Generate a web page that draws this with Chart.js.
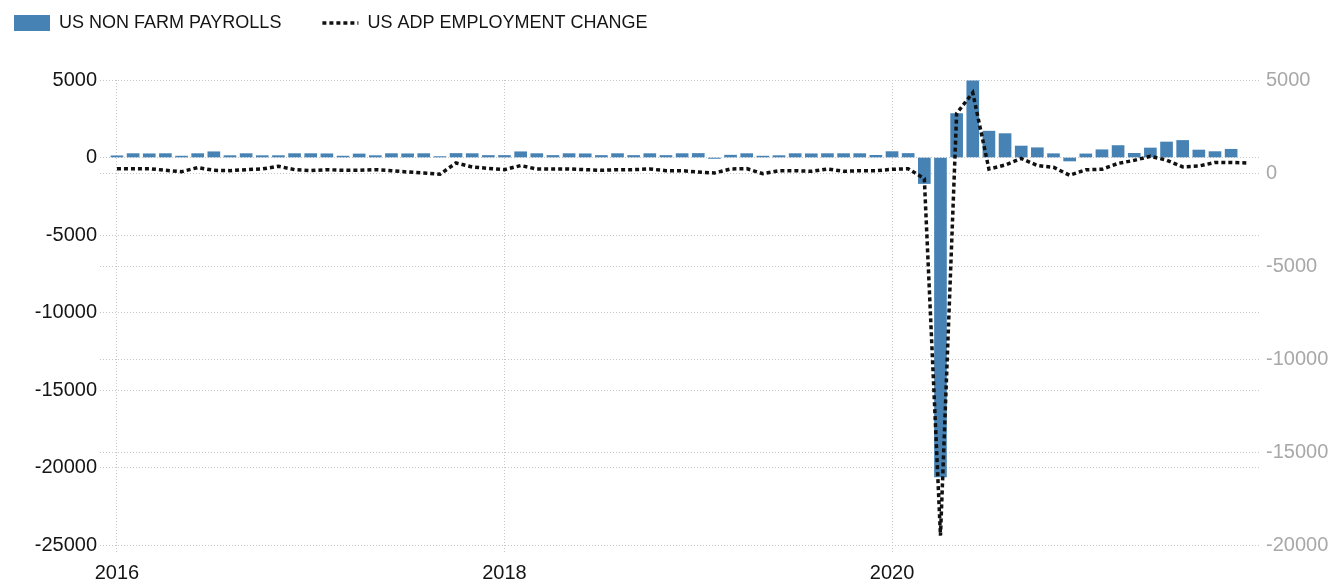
<!DOCTYPE html>
<html>
<head>
<meta charset="utf-8">
<title>US Non Farm Payrolls vs ADP Employment Change</title>
<script src="https://cdn.jsdelivr.net/npm/chart.js@4.4.0/dist/chart.umd.min.js"></script>
<style>
  html, body { margin: 0; padding: 0; background: #fff; }
  #wrap { width: 1341px; height: 587px; }
</style>
</head>
<body>
<div id="wrap"><canvas id="chart"></canvas></div>
<script>
// monthly data, thousands of jobs
const yearTicks = [2016, 2018, 2020];

// NFP: Jan 2016 - Oct 2021
const nfp = [
  110, 250, 240, 250, 90, 250, 370, 120, 250, 120, 120, 250,
  250, 240, 90, 230, 120, 250, 240, 250, 60, 260, 250, 130,
  130, 370, 250, 130, 250, 240, 130, 250, 130, 250, 130, 250,
  260, -60, 150, 250, 90, 120, 250, 240, 250, 250, 250, 140,
  380, 260, -1680, -20600, 2833, 4940, 1700, 1540, 740, 630, 245, -225,
  233, 500, 770, 269, 614, 1000, 1100, 483, 379, 531
];

// ADP: Jan 2016 - Nov 2021
const adp = [
  235, 235, 235, 145, 72, 290, 145, 126, 180, 217, 361, 180,
  126, 180, 145, 145, 180, 126, 54, 0, -70, 540, 325, 250,
  180, 400, 217, 217, 217, 180, 145, 180, 180, 217, 126, 126,
  54, 0, 217, 235, -36, 126, 126, 90, 217, 90, 126, 126,
  200, 230, -302, -19500, 3200, 4314, 212, 428, 780, 404, 307, -123,
  174, 200, 517, 680, 900, 692, 330, 374, 568, 571, 534
];

const months = [];
for (let y = 2016; y <= 2021; y++) {
  for (let m = 1; m <= 12; m++) months.push(y + '-' + String(m).padStart(2, '0'));
}

Chart.defaults.font.family = "'Liberation Sans', Arial, sans-serif";

const legendPlace = {
  id: 'legendPlace',
  beforeInit(chart) {
    const fit = chart.legend.fit;
    chart.legend.fit = function () {
      fit.call(this);
      this.height = 80;
    };
  },
  afterLayout(chart) {
    const pad = chart.options.plugins.legend.labels.padding;
    chart.legend.left = 14 - pad;
    chart.legend.top = 23 - pad - 9;
  }
};

const gridColor = '#c6c6c6';
const textColor = '#151515';

new Chart(document.getElementById('chart'), {
  data: {
    datasets: [
      {
        type: 'bar',
        label: 'US NON FARM PAYROLLS',
        data: nfp.map((v, i) => ({ x: i, y: v })),
        backgroundColor: '#4682b4',
        barThickness: 12,
        yAxisID: 'y',
        order: 1
      },
      {
        type: 'line',
        label: 'US ADP EMPLOYMENT CHANGE',
        data: adp.map((v, i) => ({ x: i, y: v })),
        borderColor: '#111',
        borderWidth: 3.5,
        borderDash: [4, 3],
        pointRadius: 0,
        tension: 0,
        fill: false,
        yAxisID: 'y1',
        order: 0
      }
    ]
  },
  options: {
    responsive: true,
    maintainAspectRatio: false,
    animation: false,
    layout: { padding: 0 },
    plugins: {
      tooltip: { enabled: false },
      legend: {
        position: 'top',
        align: 'start',
        labels: {
          padding: 41,
          usePointStyle: true,
          pointStyleWidth: 36,
          boxHeight: 16,
          color: textColor,
          font: { size: 18 },
          sort: (a, b) => a.datasetIndex - b.datasetIndex,
          generateLabels(chart) {
            const items = Chart.defaults.plugins.legend.labels.generateLabels(chart);
            items.forEach(it => {
              const ds = chart.data.datasets[it.datasetIndex];
              if (ds.type === 'line') {
                it.pointStyle = 'line';
                it.lineWidth = ds.borderWidth;
                it.lineDash = ds.borderDash;
                it.strokeStyle = ds.borderColor;
              } else {
                it.pointStyle = 'rect';
                it.lineWidth = 0;
                it.fillStyle = ds.backgroundColor;
              }
            });
            return items;
          }
        }
      }
    },
    scales: {
      x: {
        type: 'linear',
        offset: false,
        min: -1.05,
        max: 70.85,
        afterBuildTicks(scale) {
          scale.ticks = yearTicks.map(y => ({ value: months.indexOf(y + '-01') }));
        },
        afterFit(scale) { scale.height = 42; },
        ticks: {
          color: textColor,
          font: { size: 20 },
          padding: 9,
          maxRotation: 0,
          autoSkip: false,
          callback: v => months[v] ? months[v].slice(0, 4) : ''
        },
        grid: { offset: false, color: gridColor, tickLength: 7, tickBorderDash: [1, 2], tickColor: gridColor },
        border: { display: false, dash: [1, 2] }
      },
      y: {
        position: 'left',
        min: -25000,
        max: 5000,
        afterFit(scale) { scale.width = 100; },
        ticks: {
          stepSize: 5000,
          color: textColor,
          font: { size: 20 },
          padding: 3,
          callback: v => String(v)
        },
        grid: { color: gridColor, drawTicks: false },
        border: { display: false, dash: [1, 2] }
      },
      y1: {
        position: 'right',
        min: -20000,
        max: 5000,
        afterFit(scale) { scale.width = 80; },
        ticks: {
          stepSize: 5000,
          color: '#a8a8a8',
          font: { size: 20 },
          padding: 5,
          callback: v => String(v)
        },
        grid: { color: gridColor, drawTicks: false },
        border: { display: false, dash: [1, 2] }
      }
    }
  },
  plugins: [legendPlace]
});
</script>
</body>
</html>
